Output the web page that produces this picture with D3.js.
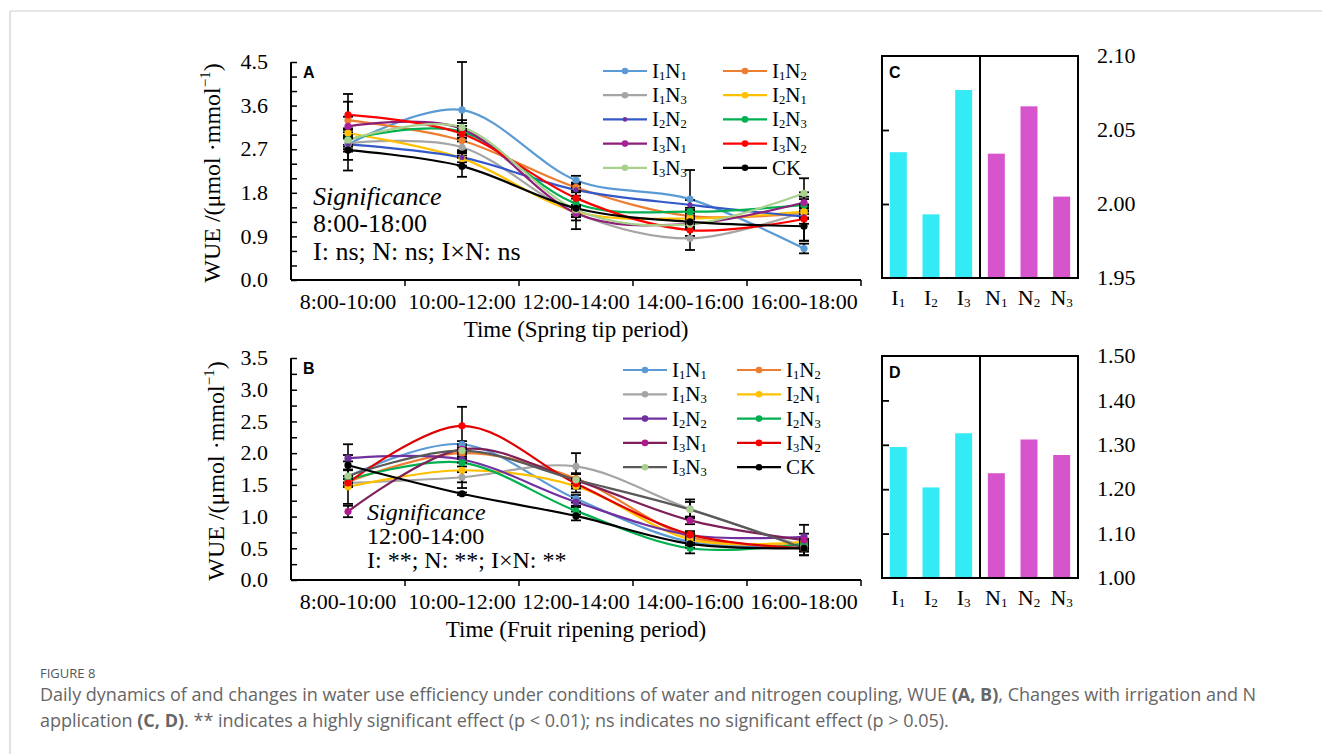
<!DOCTYPE html>
<html>
<head>
<meta charset="utf-8">
<script src="https://cdn.jsdelivr.net/npm/d3@7"></script>
<style>
  body { margin: 0; background: #fff; }
  svg { display: block; }
</style>
</head>
<body>
<div class="svg-container"></div>
<script>
// ---- data ----
const times = ["8:00-10:00", "10:00-12:00", "12:00-14:00", "14:00-16:00", "16:00-18:00"];
const seriesNames = ["I1N1", "I1N2", "I1N3", "I2N1", "I2N2", "I2N3", "I3N1", "I3N2", "I3N3", "CK"];

// panel A, spring tip period
const springValues = [
  [2.80, 3.51, 2.06, 1.67, 0.65],
  [3.30, 2.88, 1.91, 1.32, 1.38],
  [2.82, 2.74, 1.38, 0.86, 1.41],
  [3.03, 2.51, 1.41, 1.27, 1.41],
  [2.80, 2.53, 1.86, 1.55, 1.31],
  [2.90, 3.06, 1.58, 1.41, 1.55],
  [3.17, 3.12, 1.38, 1.16, 1.60],
  [3.41, 3.02, 1.69, 1.03, 1.26],
  [2.89, 3.15, 1.45, 1.15, 1.79],
  [2.68, 2.35, 1.48, 1.20, 1.11]
];
const springErr = [
  [0.15, 0.99, 0.09, 0.60, 0.10],
  [0.38, 0.20, 0.10, 0.12, 0.10],
  [0.12, 0.12, 0.08, 0.24, 0.12],
  [0.10, 0.15, 0.10, 0.10, 0.15],
  [0.32, 0.10, 0.12, 0.10, 0.50],
  [0.15, 0.12, 0.10, 0.08, 0.12],
  [0.20, 0.12, 0.15, 0.10, 0.12],
  [0.43, 0.10, 0.15, 0.12, 0.10],
  [0.10, 0.15, 0.10, 0.10, 0.31],
  [0.42, 0.22, 0.43, 0.10, 0.30]
];

// panel B, fruit ripening period
const fruitValues = [
  [1.63, 2.14, 1.28, 0.60, 0.55],
  [1.55, 2.00, 1.60, 0.68, 0.55],
  [1.53, 1.62, 1.79, 1.12, 0.53],
  [1.47, 1.73, 1.48, 0.64, 0.60],
  [1.92, 1.90, 1.23, 0.71, 0.68],
  [1.58, 1.85, 1.09, 0.50, 0.57],
  [1.08, 2.06, 1.57, 0.94, 0.63],
  [1.53, 2.43, 1.52, 0.72, 0.50],
  [1.64, 2.04, 1.58, 1.11, 0.50],
  [1.81, 1.36, 1.01, 0.57, 0.50]
];
const fruitErr = [
  [0.10, 0.05, 0.06, 0.05, 0.05],
  [0.08, 0.06, 0.08, 0.05, 0.05],
  [0.06, 0.08, 0.21, 0.15, 0.05],
  [0.27, 0.28, 0.10, 0.05, 0.05],
  [0.05, 0.05, 0.06, 0.05, 0.05],
  [0.06, 0.06, 0.06, 0.08, 0.05],
  [0.09, 0.08, 0.10, 0.06, 0.24],
  [0.06, 0.30, 0.08, 0.05, 0.11],
  [0.10, 0.05, 0.10, 0.12, 0.05],
  [0.33, 0.02, 0.07, 0.06, 0.05]
];

const springTicks = [0, 0.9, 1.8, 2.7, 3.6, 4.5];
const fruitTicks = [0, 0.5, 1.0, 1.5, 2.0, 2.5, 3.0, 3.5];

// panels C, D
const factorLabels = ["I1", "I2", "I3", "N1", "N2", "N3"];
const springFactor = [2.035, 1.993, 2.077, 2.034, 2.066, 2.005];
const fruitFactor = [1.295, 1.204, 1.326, 1.236, 1.312, 1.277];
const springFactorTicks = [1.95, 2.00, 2.05, 2.10];
const fruitFactorTicks = [1.00, 1.10, 1.20, 1.30, 1.40, 1.50];

// colours
const lineA = ["#5B9BD5", "#ED7D31", "#A5A5A5", "#FFC000", "#3558C8", "#00B050", "#8E1E78", "#FF0000", "#A9D18E", "#000000"];
const markA = ["#5B9BD5", "#ED7D31", "#A5A5A5", "#FFC000", "#7030A0", "#00B050", "#A8209A", "#FF0000", "#A9D18E", "#000000"];
const lineB = ["#5B9BD5", "#ED7D31", "#A5A5A5", "#FFC000", "#7030A0", "#00B050", "#7E1F5A", "#E00000", "#595959", "#000000"];
const markB = ["#5B9BD5", "#ED7D31", "#A5A5A5", "#FFC000", "#7030A0", "#00B050", "#B0188E", "#FF0000", "#A9D18E", "#000000"];
const barColors = ["#34EAF5", "#34EAF5", "#34EAF5", "#D655CC", "#D655CC", "#D655CC"];

const serif = "'Liberation Serif', 'Times New Roman', serif";
const sans = "'Liberation Sans', Arial, sans-serif";

const svg = d3.select(".svg-container").append("svg")
  .attr("width", 1322).attr("height", 754)
  .style("font-family", serif);

// outer frame lines
svg.append("line").attr("x1", 10).attr("x2", 1322).attr("y1", 11).attr("y2", 11)
  .attr("stroke", "#cfcfcf").attr("stroke-width", 1.2);
svg.append("line").attr("x1", 10).attr("x2", 10).attr("y1", 11).attr("y2", 754)
  .attr("stroke", "#cfcfcf").attr("stroke-width", 1.2);

// draw label like I1N2 with subscript digits
function subText(sel, label, size) {
  const parts = label.match(/[A-Z]+|\d/g);
  let shifted = false;
  parts.forEach(p => {
    if (/\d/.test(p)) {
      sel.append("tspan").attr("font-size", size * 0.6).attr("dy", 2).text(p);
      shifted = true;
    } else {
      sel.append("tspan").attr("dy", shifted ? -2 : 0).text(p);
      shifted = false;
    }
  });
}

function linePanel(cfg) {
  const x = d3.scaleBand().domain(times).range([291, 861]);
  const y = d3.scaleLinear().domain([0, cfg.max]).range([cfg.bottom, cfg.top]);
  const g = svg.append("g");

  // y axis with inward minor ticks
  g.append("g").attr("transform", "translate(291,0)")
    .call(d3.axisRight(y).tickValues(d3.range(0, cfg.max + 1e-6, cfg.minor)).tickSize(6).tickFormat(""))
    .call(a => a.select(".domain").remove())
    .call(a => a.selectAll("line").attr("stroke", "#000").attr("stroke-width", 1.5));
  g.append("line").attr("x1", 291).attr("x2", 291).attr("y1", cfg.top).attr("y2", cfg.bottom)
    .attr("stroke", "#000").attr("stroke-width", 2);
  g.selectAll(".ylab").data(cfg.ticks).enter().append("text")
    .attr("x", 268).attr("y", d => y(d)).attr("dy", "0.33em")
    .attr("text-anchor", "end").attr("font-size", 22).text(d => d.toFixed(1));

  // x axis, ticks at category boundaries
  g.append("line").attr("x1", 291).attr("x2", 861).attr("y1", cfg.bottom).attr("y2", cfg.bottom)
    .attr("stroke", "#000").attr("stroke-width", 2);
  g.selectAll(".xt").data(times).enter().append("line")
    .attr("x1", d => x(d) + x.bandwidth())
    .attr("x2", d => x(d) + x.bandwidth())
    .attr("y1", cfg.bottom).attr("y2", cfg.bottom + 6)
    .attr("stroke", "#000").attr("stroke-width", 1.5);
  g.selectAll(".xlab").data(times).enter().append("text")
    .attr("x", d => x(d) + x.bandwidth() / 2).attr("y", cfg.bottom + 29)
    .attr("text-anchor", "middle").attr("font-size", 22).text(d => d);
  g.append("text").attr("x", 576).attr("y", cfg.bottom + 57)
    .attr("text-anchor", "middle").attr("font-size", 23).text(cfg.xTitle);

  // y title
  const yt = g.append("text")
    .attr("transform", "translate(" + cfg.yTitleX + "," + ((cfg.top + cfg.bottom) / 2 + 2) + ") rotate(-90)")
    .attr("text-anchor", "middle").attr("font-size", 24);
  yt.append("tspan").text("WUE /(μmol ·mmol");
  yt.append("tspan").attr("font-size", 15).attr("dy", -10).text("−1");
  yt.append("tspan").attr("dy", 10).text(")");

  // panel letter
  g.append("text").attr("x", 303).attr("y", cfg.top + 16)
    .attr("font-family", sans).attr("font-weight", "bold").attr("font-size", 16).text(cfg.letter);

  // series
  const cx = d => x(d) + x.bandwidth() / 2;
  const line = d3.line().x((d, i) => cx(times[i])).y(d => y(d)).curve(d3.curveCardinal.tension(0));
  cfg.values.forEach((vals, s) => {
    g.append("path").datum(vals).attr("d", line)
      .attr("fill", "none").attr("stroke", cfg.lineColors[s]).attr("stroke-width", 2.2);
  });
  // error bars
  cfg.values.forEach((vals, s) => {
    const eb = g.append("g");
    vals.forEach((v, i) => {
      const e = cfg.err[s][i], px = cx(times[i]);
      eb.append("line").attr("x1", px).attr("x2", px).attr("y1", y(v - e)).attr("y2", y(v + e))
        .attr("stroke", "#000").attr("stroke-width", 1.6);
      [v - e, v + e].forEach(c => eb.append("line").attr("x1", px - 5).attr("x2", px + 5)
        .attr("y1", y(c)).attr("y2", y(c)).attr("stroke", "#000").attr("stroke-width", 1.8));
    });
  });
  // markers
  cfg.values.forEach((vals, s) => {
    g.selectAll(null).data(vals).enter().append("circle")
      .attr("cx", (d, i) => cx(times[i])).attr("cy", d => y(d))
      .attr("r", s === 4 && cfg.letter === "A" ? 2.6 : 3.6)
      .attr("fill", cfg.markColors[s]);
  });

  // significance note
  cfg.note.forEach((t, i) => {
    g.append("text").attr("x", cfg.noteX).attr("y", cfg.noteY[i])
      .attr("font-size", cfg.noteSize).attr("font-style", i === 0 ? "italic" : "normal").text(t);
  });

  // legend
  seriesNames.forEach((name, s) => {
    const lx = cfg.legX[s % 2], ly = cfg.legY + Math.floor(s / 2) * cfg.legStep;
    g.append("line").attr("x1", lx).attr("x2", lx + 44).attr("y1", ly).attr("y2", ly)
      .attr("stroke", cfg.lineColors[s]).attr("stroke-width", 2.2);
    g.append("circle").attr("cx", lx + 22).attr("cy", ly)
      .attr("r", s === 4 && cfg.letter === "A" ? 2.3 : 3.3).attr("fill", cfg.markColors[s]);
    const t = g.append("text").attr("x", lx + 49).attr("y", ly + 7).attr("font-size", 21);
    subText(t, name, 21);
  });
}

linePanel({
  letter: "A", max: 4.5, minor: 0.3, ticks: springTicks, top: 62, bottom: 280,
  values: springValues, err: springErr, lineColors: lineA, markColors: markA,
  xTitle: "Time (Spring tip period)", yTitleX: 220,
  note: ["Significance", "8:00-18:00", "I: ns; N: ns; I×N: ns"], noteX: 313, noteY: [205, 232, 260], noteSize: 26,
  legX: [603, 723], legY: 71, legStep: 24.2
});

linePanel({
  letter: "B", max: 3.5, minor: 0.25, ticks: fruitTicks, top: 358, bottom: 580,
  values: fruitValues, err: fruitErr, lineColors: lineB, markColors: markB,
  xTitle: "Time (Fruit ripening period)", yTitleX: 224,
  note: ["Significance", "12:00-14:00", "I: **; N: **; I×N: **"], noteX: 367, noteY: [520, 544, 568], noteSize: 24,
  legX: [623, 737], legY: 370, legStep: 24.3
});

function barPanel(cfg) {
  const x = d3.scaleBand().domain(factorLabels).range([882, 1078]).paddingInner(0.48).paddingOuter(0.24);
  const y = d3.scaleLinear().domain([cfg.ticks[0], cfg.ticks[cfg.ticks.length - 1]]).range([cfg.bottom, cfg.top]);
  const g = svg.append("g");

  g.selectAll("rect").data(cfg.values).enter().append("rect")
    .attr("x", (d, i) => x(factorLabels[i])).attr("width", x.bandwidth())
    .attr("y", d => y(d)).attr("height", d => cfg.bottom - y(d))
    .attr("fill", (d, i) => barColors[i]);

  g.append("rect").attr("x", 882).attr("y", cfg.top).attr("width", 196).attr("height", cfg.bottom - cfg.top)
    .attr("fill", "none").attr("stroke", "#000").attr("stroke-width", 2);
  g.append("line").attr("x1", 980).attr("x2", 980).attr("y1", cfg.top).attr("y2", cfg.bottom)
    .attr("stroke", "#000").attr("stroke-width", 2);

  // inner ticks on the left edge
  g.append("g").attr("transform", "translate(882,0)")
    .call(d3.axisRight(y).tickValues(cfg.ticks.slice(1, -1)).tickSize(7).tickFormat(""))
    .call(a => a.select(".domain").remove())
    .call(a => a.selectAll("line").attr("stroke", "#000").attr("stroke-width", 1.8));

  // labels on the right
  g.selectAll(".rl").data(cfg.ticks).enter().append("text")
    .attr("x", 1097).attr("y", d => y(d)).attr("dy", "0.33em")
    .attr("font-size", 22).text(d => d.toFixed(2));

  factorLabels.forEach(l => {
    const t = g.append("text").attr("x", x(l) + x.bandwidth() / 2).attr("y", cfg.bottom + 27)
      .attr("text-anchor", "middle").attr("font-size", 22);
    subText(t, l, 22);
  });

  g.append("text").attr("x", 889).attr("y", cfg.top + 22)
    .attr("font-family", sans).attr("font-weight", "bold").attr("font-size", 16).text(cfg.letter);
}

barPanel({ letter: "C", values: springFactor, ticks: springFactorTicks, top: 56, bottom: 278 });
barPanel({ letter: "D", values: fruitFactor, ticks: fruitFactorTicks, top: 356, bottom: 578 });

// caption
const cap = svg.append("g").style("font-family", "'Open Sans', sans-serif").attr("fill", "#666");
cap.append("text").attr("x", 40).attr("y", 678).attr("font-size", 13).attr("fill", "#555").text("FIGURE 8");
const c1 = cap.append("text").attr("x", 40).attr("y", 701).attr("font-size", 18);
c1.append("tspan").text("Daily dynamics of and changes in water use efficiency under conditions of water and nitrogen coupling, WUE ");
c1.append("tspan").attr("font-weight", "bold").text("(A, B)");
c1.append("tspan").text(", Changes with irrigation and N");
const c2 = cap.append("text").attr("x", 40).attr("y", 727).attr("font-size", 18);
c2.append("tspan").text("application ");
c2.append("tspan").attr("font-weight", "bold").text("(C, D)");
c2.append("tspan").text(". ** indicates a highly significant effect (p < 0.01); ns indicates no significant effect (p > 0.05).");
</script>
</body>
</html>
